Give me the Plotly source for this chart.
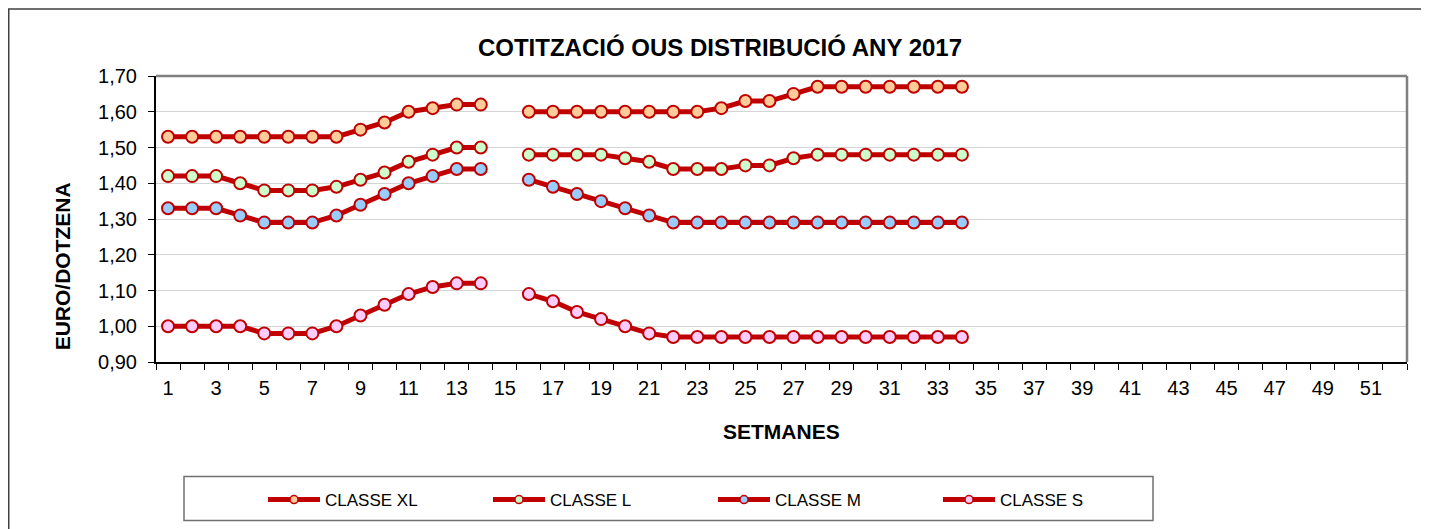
import plotly.graph_objects as go

weeks = list(range(1, 35))
xl = [1.53, 1.53, 1.53, 1.53, 1.53, 1.53, 1.53, 1.53, 1.55, 1.57, 1.60, 1.61, 1.62, 1.62, None,
      1.60, 1.60, 1.60, 1.60, 1.60, 1.60, 1.60, 1.60, 1.61, 1.63, 1.63, 1.65,
      1.67, 1.67, 1.67, 1.67, 1.67, 1.67, 1.67]
l = [1.42, 1.42, 1.42, 1.40, 1.38, 1.38, 1.38, 1.39, 1.41, 1.43, 1.46, 1.48, 1.50, 1.50, None,
     1.48, 1.48, 1.48, 1.48, 1.47, 1.46, 1.44, 1.44, 1.44, 1.45, 1.45, 1.47,
     1.48, 1.48, 1.48, 1.48, 1.48, 1.48, 1.48]
m = [1.33, 1.33, 1.33, 1.31, 1.29, 1.29, 1.29, 1.31, 1.34, 1.37, 1.40, 1.42, 1.44, 1.44, None,
     1.41, 1.39, 1.37, 1.35, 1.33, 1.31, 1.29, 1.29, 1.29, 1.29, 1.29, 1.29,
     1.29, 1.29, 1.29, 1.29, 1.29, 1.29, 1.29]
s = [1.00, 1.00, 1.00, 1.00, 0.98, 0.98, 0.98, 1.00, 1.03, 1.06, 1.09, 1.11, 1.12, 1.12, None,
     1.09, 1.07, 1.04, 1.02, 1.00, 0.98, 0.97, 0.97, 0.97, 0.97, 0.97, 0.97,
     0.97, 0.97, 0.97, 0.97, 0.97, 0.97, 0.97]

series_names = ["CLASSE XL", "CLASSE L", "CLASSE M", "CLASSE S"]
series_values = [xl, l, m, s]
fill_colors = ["#FFCC99", "#CCFFCC", "#99CCFF", "#FFCCFF"]

x_tick_vals = list(range(1, 52, 2))
x_tick_text = [str(v) for v in x_tick_vals]

LINE = "#C00000"
FONT = "Liberation Sans, Arial, sans-serif"

# page body adds an 8px offset; figure is drawn inside 8..1429 x 8..529
OFF = 8
W, H = 1429 - OFF, 529 - OFF
L_M, R_M, T_M, B_M = 156 - OFF, 22, 76 - OFF, 166
PW, PH = W - L_M - R_M, H - T_M - B_M


def px(xp):
    return (xp - OFF - L_M) / PW


def py(yp):
    return (H - B_M - (yp - OFF)) / PH


fig = go.Figure()
for name, vals, fc in zip(series_names, series_values, fill_colors):
    fig.add_trace(go.Scatter(
        x=weeks, y=vals, mode="lines+markers", name=name, showlegend=False,
        connectgaps=False,
        line=dict(color=LINE, width=5),
        marker=dict(symbol="circle", size=12, color=fc, line=dict(color=LINE, width=2)),
    ))
for name, fc in zip(series_names, fill_colors):
    fig.add_trace(go.Scatter(
        x=[None], y=[None], mode="lines+markers", name=name, showlegend=True,
        line=dict(color=LINE, width=5),
        marker=dict(symbol="circle", size=8, color=fc, line=dict(color=LINE, width=1.5)),
    ))

fig.update_layout(
    width=W, height=H,
    margin=dict(l=L_M, r=R_M, t=T_M, b=B_M),
    paper_bgcolor="white", plot_bgcolor="white",
    separators=",.",
    font=dict(family=FONT, color="black"),
    title=dict(text="<b>COTITZACIÓ OUS DISTRIBUCIÓ ANY 2017</b>", x=(720 - OFF) / W, y=1 - (48 - OFF) / H,
               xanchor="center", yanchor="middle", font=dict(size=24, family=FONT, color="black")),
    xaxis=dict(range=[0.5, 52.5], tickmode="array", tickvals=x_tick_vals, ticktext=x_tick_text,
               ticks="", showgrid=False, zeroline=False, showline=True, linecolor="black", linewidth=2,
               tickfont=dict(size=20, family=FONT, color="black"), ticklabelstandoff=7,
               minor=dict(tickmode="array", tickvals=[v + 0.5 for v in range(0, 53)], ticks="outside",
                          ticklen=6, tickcolor="black", tickwidth=1, showgrid=False)),
    yaxis=dict(range=[0.9, 1.7], tickmode="linear", tick0=0.9, dtick=0.1, tickformat=".2f",
               ticks="outside", ticklen=6, tickcolor="black", showgrid=True, gridcolor="#D4D4D4",
               gridwidth=1, zeroline=False, showline=True, linecolor="black", linewidth=2,
               tickfont=dict(size=20, family=FONT, color="black"), ticklabelstandoff=7),
    legend=dict(orientation="h", x=px(263), xanchor="left", y=py(500), yanchor="middle",
                font=dict(size=17, family=FONT, color="black"), bgcolor="rgba(0,0,0,0)",
                borderwidth=0, entrywidth=158, entrywidthmode="pixels", itemwidth=52),
    annotations=[
        dict(text="<b>EURO/DOTZENA</b>", x=px(62), y=py(267), xref="paper", yref="paper",
             textangle=-90, showarrow=False, font=dict(size=21, family=FONT, color="black"),
             xanchor="center", yanchor="middle"),
        dict(text="<b>SETMANES</b>", x=px(781), y=py(433), xref="paper", yref="paper",
             showarrow=False, font=dict(size=21, family=FONT, color="black"),
             xanchor="center", yanchor="middle"),
    ],
    shapes=[
        # plot area top and right frame
        dict(type="line", xref="paper", yref="paper", x0=0, x1=1, y0=1, y1=1,
             line=dict(color="#808080", width=2.5)),
        dict(type="line", xref="paper", yref="paper", x0=1, x1=1, y0=0, y1=1,
             line=dict(color="#808080", width=2.5)),
        # legend frame
        dict(type="rect", xref="paper", yref="paper", x0=px(184), x1=px(1153), y0=py(522), y1=py(478),
             line=dict(color="#707070", width=1.5), fillcolor="rgba(0,0,0,0)"),
        # outer chart frame
        dict(type="rect", xref="paper", yref="paper", x0=px(8.75), x1=px(1445), y0=py(545), y1=py(8.75),
             line=dict(color="#404040", width=1.5), fillcolor="rgba(0,0,0,0)"),
    ],
)

fig.write_html("out.html")
